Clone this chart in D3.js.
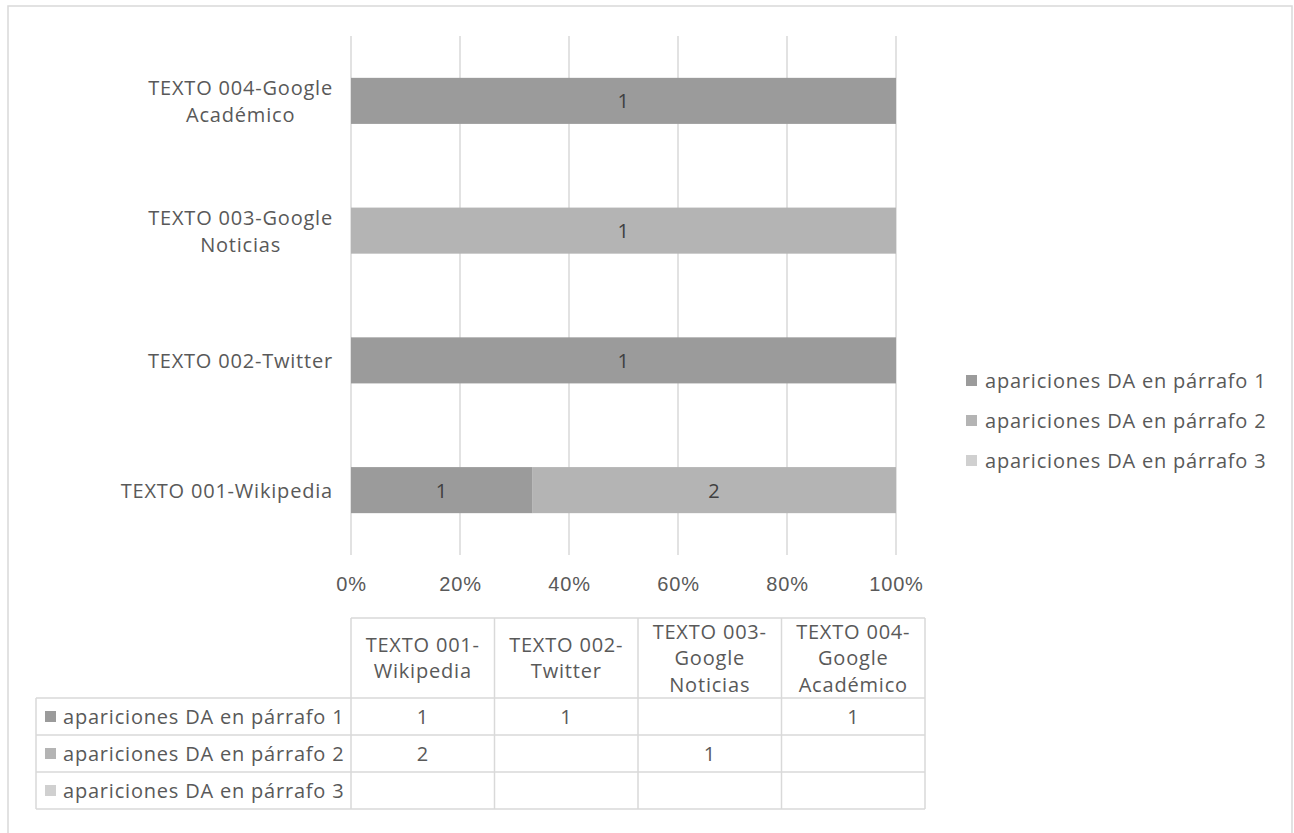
<!DOCTYPE html>
<html>
<head>
<meta charset="utf-8">
<script src="https://cdn.jsdelivr.net/npm/d3@7"></script>
<style>
    body { margin: 0; background: #ffffff; }
    svg { display: block; font-family: "Open Sans", "Lato", sans-serif; letter-spacing: 0.8px; }
</style>
</head>
<body>
<svg></svg>
<script>
const svgWidth = 1294
const svgHeight = 833
const margins = { top: 36, left: 351, right: 398, bottom: 278 } //plot area of the bars
const plotWidth = svgWidth - margins.left - margins.right
const plotHeight = svgHeight - margins.top - margins.bottom

// data
const categories = ["TEXTO 001-Wikipedia", "TEXTO 002-Twitter", "TEXTO 003-Google Noticias", "TEXTO 004-Google Académico"]
const axisLines = [["TEXTO 001-Wikipedia"], ["TEXTO 002-Twitter"], ["TEXTO 003-Google", "Noticias"], ["TEXTO 004-Google", "Académico"]]
const headerLines = [["TEXTO 001-", "Wikipedia"], ["TEXTO 002-", "Twitter"], ["TEXTO 003-", "Google", "Noticias"], ["TEXTO 004-", "Google", "Académico"]]
const seriesNames = ["apariciones DA en párrafo 1", "apariciones DA en párrafo 2", "apariciones DA en párrafo 3"]
const parrafo1 = [1, 1, null, 1]
const parrafo2 = [2, null, 1, null]
const parrafo3 = [null, null, null, null]
const tickValues = [0, 0.2, 0.4, 0.6, 0.8, 1]

const seriesValues = [parrafo1, parrafo2, parrafo3]
const colors = ["#9b9b9b", "#b4b4b4", "#d0d0d0"]
const textColor = "#595959"
const lineColor = "#d9d9d9"
const fontSize = 20

const svg = d3.select("svg")
    .attr("width", svgWidth)
    .attr("height", svgHeight)

// outer frame (bottom edge falls outside the picture)
svg.append("rect")
    .attr("x", 8)
    .attr("y", 6)
    .attr("width", 1284)
    .attr("height", 900)
    .attr("fill", "none")
    .attr("stroke", lineColor)
    .attr("stroke-width", 1.5)

const rows = categories.map((c, i) => {
    const row = { category: c }
    seriesNames.forEach((s, j) => {
        row[s] = seriesValues[j][i] || 0
    })
    return row
})

const stacked = d3.stack()
    .keys(seriesNames)
    .offset(d3.stackOffsetExpand)(rows)

const xScale = d3.scaleLinear()
    .domain([0, 1])
    .range([margins.left, margins.left + plotWidth])

const yScale = d3.scaleBand()
    .domain(categories.slice().reverse())
    .range([margins.top, margins.top + plotHeight])
    .paddingInner(0.645)
    .paddingOuter(0.3225)

// grid lines
svg.append("g")
    .selectAll("line")
    .data(tickValues)
    .join("line")
    .attr("x1", (d) => { return xScale(d) })
    .attr("x2", (d) => { return xScale(d) })
    .attr("y1", margins.top)
    .attr("y2", margins.top + plotHeight)
    .attr("stroke", lineColor)
    .attr("stroke-width", 1.5)

// x axis labels
const xAxis = svg.append("g")
    .attr("transform", `translate(0,${margins.top + plotHeight})`)
    .call(d3.axisBottom(xScale).tickValues(tickValues).tickFormat(d3.format(".0%")).tickSize(0).tickPadding(22))
xAxis.select(".domain").remove()
xAxis.selectAll("text")
    .attr("font-family", null)
    .attr("font-size", fontSize)
    .attr("fill", textColor)

// bars
const barGroup = svg.append("g")
stacked.forEach((series, j) => {
    barGroup.append("g")
        .selectAll("rect")
        .data(series.filter((d) => { return d[1] - d[0] > 0 }))
        .join("rect")
        .attr("x", (d) => { return xScale(d[0]) })
        .attr("y", (d) => { return yScale(d.data.category) })
        .attr("width", (d) => { return xScale(d[1]) - xScale(d[0]) })
        .attr("height", yScale.bandwidth())
        .attr("fill", colors[j])
    barGroup.append("g")
        .selectAll("text")
        .data(series.filter((d) => { return d[1] - d[0] > 0 }))
        .join("text")
        .text((d) => { return d.data[seriesNames[j]] })
        .attr("x", (d) => { return (xScale(d[0]) + xScale(d[1])) / 2 })
        .attr("y", (d) => { return yScale(d.data.category) + yScale.bandwidth() / 2 + 7.5 })
        .attr("text-anchor", "middle")
        .attr("font-size", fontSize)
        .attr("fill", "#404040")
})

// category labels, lines centred, block right-aligned
const labelRight = 333
const lineHeight = 27
categories.forEach((c, i) => {
    const cy = yScale(c) + yScale.bandwidth() / 2
    const lines = axisLines[i]
    const label = svg.append("text")
        .attr("font-size", fontSize)
        .attr("fill", textColor)
        .attr("text-anchor", "middle")
    lines.forEach((l, k) => {
        label.append("tspan")
            .text(l)
            .attr("y", cy + 7.5 + (k - (lines.length - 1) / 2) * lineHeight)
    })
    let maxWidth = 0
    label.selectAll("tspan").each(function () {
        maxWidth = Math.max(maxWidth, this.getComputedTextLength())
    })
    label.selectAll("tspan").attr("x", labelRight - maxWidth / 2)
})

// legend
const legend = svg.append("g")
    .attr("transform", "translate(966,375)")
seriesNames.forEach((s, j) => {
    legend.append("rect")
        .attr("x", 0)
        .attr("y", j * 40)
        .attr("width", 11)
        .attr("height", 11)
        .attr("fill", colors[j])
    legend.append("text")
        .text(s)
        .attr("x", 19)
        .attr("y", j * 40 + 13)
        .attr("font-size", fontSize)
        .attr("fill", textColor)
})

// data table
const tableTop = 618
const headerBottom = 698
const rowHeight = 37
const tableLeft = 36
const colScale = d3.scaleBand()
    .domain(categories)
    .range([margins.left, 925])
const tableBottom = headerBottom + rowHeight * seriesNames.length
const table = svg.append("g")
    .attr("stroke", lineColor)
    .attr("stroke-width", 1.5)

// vertical lines
categories.forEach((c) => {
    table.append("line")
        .attr("x1", colScale(c))
        .attr("x2", colScale(c))
        .attr("y1", tableTop)
        .attr("y2", tableBottom)
})
table.append("line")
    .attr("x1", colScale(categories[3]) + colScale.bandwidth())
    .attr("x2", colScale(categories[3]) + colScale.bandwidth())
    .attr("y1", tableTop)
    .attr("y2", tableBottom)
table.append("line")
    .attr("x1", tableLeft)
    .attr("x2", tableLeft)
    .attr("y1", headerBottom)
    .attr("y2", tableBottom)
// horizontal lines
table.append("line")
    .attr("x1", margins.left)
    .attr("x2", 925)
    .attr("y1", tableTop)
    .attr("y2", tableTop)
d3.range(seriesNames.length + 1).forEach((r) => {
    table.append("line")
        .attr("x1", tableLeft)
        .attr("x2", 925)
        .attr("y1", headerBottom + r * rowHeight)
        .attr("y2", headerBottom + r * rowHeight)
})

// header text
const headerCenter = (tableTop + headerBottom) / 2
categories.forEach((c, i) => {
    const lines = headerLines[i]
    const t = svg.append("text")
        .attr("font-size", fontSize)
        .attr("fill", textColor)
        .attr("text-anchor", "middle")
    lines.forEach((l, k) => {
        t.append("tspan")
            .text(l)
            .attr("x", colScale(c) + colScale.bandwidth() / 2)
            .attr("y", headerCenter + 7 + (k - (lines.length - 1) / 2) * 26.5)
    })
})

// row labels and values
seriesNames.forEach((s, j) => {
    const cy = headerBottom + j * rowHeight + rowHeight / 2
    svg.append("rect")
        .attr("x", 45)
        .attr("y", cy - 5.5)
        .attr("width", 11)
        .attr("height", 11)
        .attr("fill", colors[j])
    svg.append("text")
        .text(s)
        .attr("x", 63)
        .attr("y", cy + 7.5)
        .attr("font-size", fontSize)
        .attr("fill", textColor)
    categories.forEach((c, i) => {
        const v = seriesValues[j][i]
        if (v === null) return
        svg.append("text")
            .text(v)
            .attr("x", colScale(c) + colScale.bandwidth() / 2)
            .attr("y", cy + 7.5)
            .attr("text-anchor", "middle")
            .attr("font-size", fontSize)
            .attr("fill", textColor)
    })
})
</script>
</body>
</html>
